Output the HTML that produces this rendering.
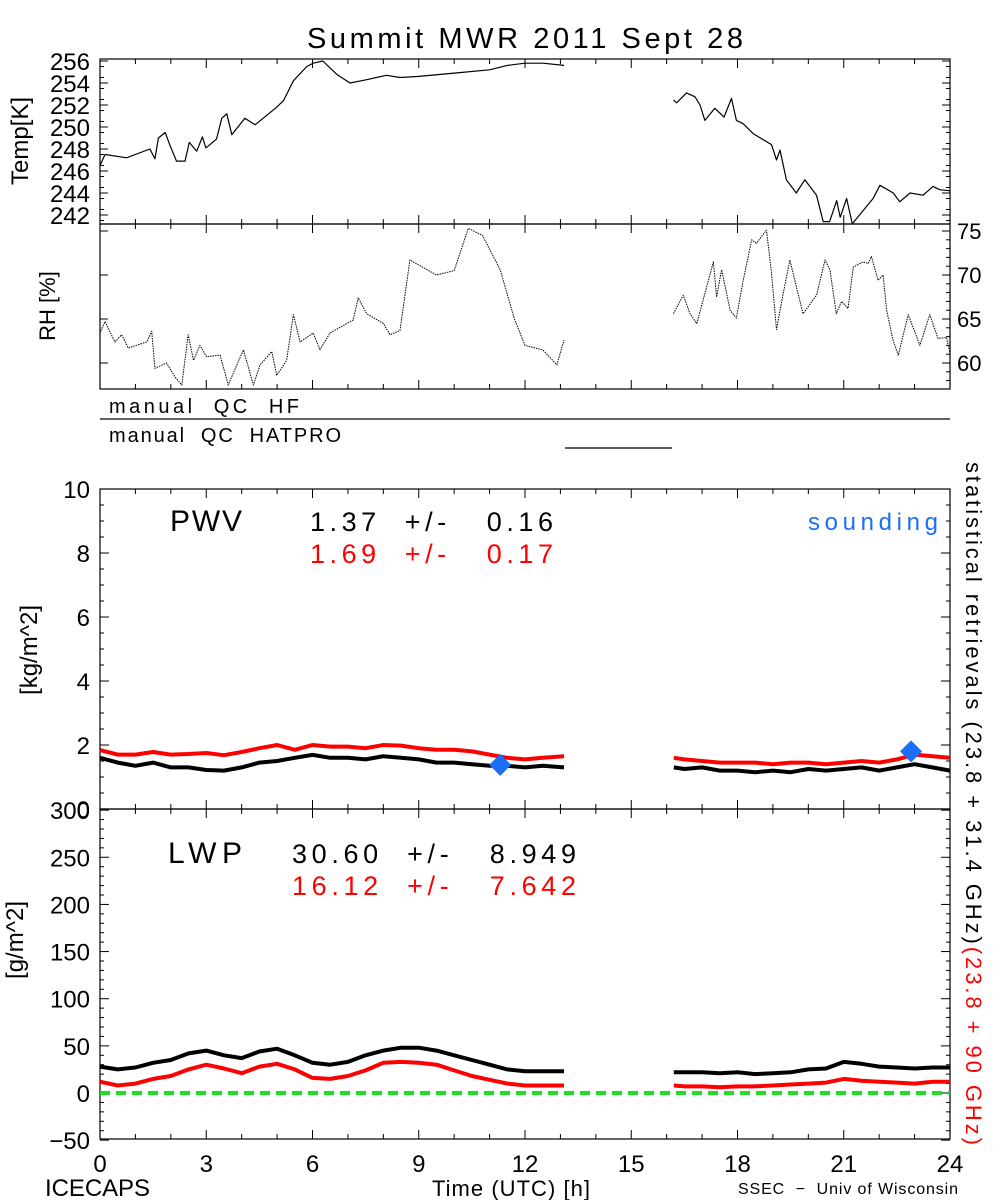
<!DOCTYPE html>
<html><head><meta charset="utf-8"><style>
html,body{margin:0;padding:0;background:#fff;}
svg{display:block;font-family:"Liberation Sans",sans-serif;}
text{white-space:pre;}
</style></head><body>
<svg id="chart" width="1000" height="1200" viewBox="0 0 1000 1200" xmlns="http://www.w3.org/2000/svg">
<rect width="1000" height="1200" fill="#fff"/>
<text x="307" y="48" font-size="29" textLength="436" lengthAdjust="spacing">Summit MWR 2011 Sept 28</text>
<g id="g"></g>
</svg>
<script>
const tempHours=[0,0.14,0.75,1.41,1.55,1.65,1.84,1.98,2.16,2.4,2.52,2.73,2.89,2.99,3.29,3.44,3.58,3.72,4.09,4.38,4.99,5.18,5.46,5.84,6.02,6.29,6.68,7.06,7.53,8.09,8.47,9,10,11,11.5,12,12.5,13.1,null,16.19,16.28,16.56,16.8,16.94,17.08,17.36,17.62,17.83,17.97,18.16,18.44,18.96,19.1,19.2,19.38,19.66,19.9,20.23,20.42,20.6,20.8,20.9,21.08,21.24,21.83,22.02,22.4,22.58,22.87,23.24,23.52,23.71,24];
const tempVals=[246.5,247.5,247.2,248.0,247.1,249.0,249.5,248.3,246.9,246.9,248.6,247.8,249.1,248.1,248.9,250.8,251.2,249.3,250.8,250.2,251.8,252.4,254.2,255.5,255.8,256.0,254.8,254.0,254.3,254.7,254.5,254.6,254.9,255.2,255.6,255.8,255.8,255.6,null,252.45,252.2,253.1,252.75,252,250.6,251.7,250.9,252.6,250.6,250.3,249.4,248.4,247,247.9,245.2,244.0,245.2,243.8,241.4,241.4,243.3,241.8,243.5,241.2,243.5,244.7,244,243.2,244,243.8,244.6,244.3,244.2];
const rhHours=[0,0.14,0.42,0.61,0.8,1.32,1.46,1.55,1.88,2.12,2.31,2.49,2.64,2.82,3.01,3.39,3.62,4.05,4.33,4.52,4.85,4.99,5.27,5.46,5.65,6.02,6.21,6.49,7.15,7.29,7.53,8.0,8.19,8.47,8.75,9.5,10,10.4,10.8,11.3,11.7,12,12.5,12.9,13.1,null,16.19,16.47,16.66,16.85,17.32,17.41,17.55,17.79,17.97,18.16,18.4,18.53,18.82,18.96,19.1,19.29,19.48,19.66,19.85,20.23,20.47,20.61,20.79,20.94,21.12,21.27,21.55,21.69,21.78,21.97,22.11,22.21,22.39,22.54,22.82,23.15,23.43,23.66,23.9,24];
const rhVals=[63.4,64.7,62.4,63.2,61.7,62.4,63.6,59.4,60,58.4,57.5,63.2,60.3,62,60.7,60.9,57.5,61.5,57.5,59.8,61.3,58.6,60.3,65.5,62.4,63.4,61.5,63.4,64.9,67.4,65.6,64.5,63.2,63.7,71.7,70,70.5,75.3,74.5,70.6,65,62,61.5,59.8,62.6,null,65.6,67.7,65.6,64.5,71.5,67.5,70.6,66,65.1,69.4,74,73.6,75.1,70.2,63.8,67.9,71.7,68.7,65.6,67.7,71.7,70.6,65.6,67,66.2,70.9,71.5,71.3,72.1,69.4,70,66,62.6,60.9,65.5,62,65.5,62.8,62.9,61.1];
const retHours=[0,0.5,1,1.5,2,2.5,3,3.5,4,4.5,5,5.5,6,6.5,7,7.5,8,8.5,9,9.5,10,10.5,11,11.5,12,12.5,13.1,null,16.2,16.5,17,17.5,18,18.5,19,19.5,20,20.5,21,21.5,22,22.5,23,23.5,24];
const pwvBlack=[1.6,1.45,1.35,1.45,1.3,1.3,1.22,1.2,1.3,1.45,1.5,1.6,1.69,1.6,1.6,1.55,1.65,1.6,1.55,1.45,1.45,1.4,1.35,1.35,1.3,1.35,1.3,null,1.3,1.25,1.3,1.2,1.2,1.15,1.2,1.15,1.25,1.2,1.25,1.3,1.2,1.3,1.4,1.3,1.2];
const pwvRed=[1.84,1.7,1.7,1.78,1.7,1.72,1.75,1.68,1.78,1.9,2.0,1.85,2.0,1.95,1.95,1.9,2.0,1.98,1.9,1.85,1.85,1.8,1.7,1.6,1.55,1.6,1.65,null,1.6,1.55,1.5,1.45,1.45,1.45,1.4,1.45,1.45,1.4,1.45,1.5,1.45,1.55,1.7,1.65,1.6];
const lwpBlack=[28,25,27,32,35,42,45,40,37,44,47,40,32,30,33,40,45,48,48,45,40,35,30,25,23,23,23,null,22,22,22,21,22,20,21,22,25,26,33,31,28,27,26,27,27];
const lwpRed=[12,8,10,15,18,25,30,26,21,28,31,25,16,15,18,24,32,33,32,30,24,18,14,10,8,8,8,null,8,7,7,6,7,7,8,9,10,11,15,13,12,11,10,12,12];
const soundHours=[11.3,22.9];
const soundVals=[1.38,1.8];
const tempTicks=[256,254,252,250,248,246,244,242];
const rhTicks=[75,70,65,60];
const pwvTicks=[10,8,6,4,2,0];
const lwpTicks=[300,250,200,150,100,50,0,-50];
const xTicks=[0,3,6,9,12,15,18,21,24];

const X0=100,X1=950;
const xs=h=>X0+(X1-X0)*h/24;
const yT=v=>61+(256-v)*11;
const yRH=v=>231+(75-v)*8.8;
const yP=v=>809-v*32;
const yL=v=>1093-v*0.9429;
const NS="http://www.w3.org/2000/svg";
const g=document.getElementById('g');
function mk(tag,attrs,parent){const e=document.createElementNS(NS,tag);for(const k in attrs)e.setAttribute(k,attrs[k]);(parent||g).appendChild(e);return e;}
function txt(s,x,y,size,anchor,fill,rot,len){const e=mk('text',{x:x,y:y,'font-size':size,'text-anchor':anchor||'start',fill:fill||'#000'});if(len){e.setAttribute('textLength',len);e.setAttribute('lengthAdjust','spacing');}if(rot)e.setAttribute('transform','rotate('+rot+' '+x+' '+y+')');e.textContent=s;return e;}
function series(hs,vs,yf,color,w,name){let d='',pen=false;for(let i=0;i<hs.length;i++){if(hs[i]===null||vs[i]===null){pen=false;continue;}d+=(pen?'L':'M')+xs(hs[i]).toFixed(1)+' '+yf(vs[i]).toFixed(1);pen=true;}const p=mk('path',{d:d,fill:'none',stroke:color,'stroke-width':w,'stroke-linejoin':'round'});

return p;}
function xTickMarks(yTop,yBot){for(let h=0;h<=24;h++){const L=(h%3===0)?9:5;const x=xs(h);mk('line',{x1:x,y1:yBot,x2:x,y2:yBot-L,stroke:'#000','stroke-width':1});mk('line',{x1:x,y1:yTop,x2:x,y2:yTop+L,stroke:'#000','stroke-width':1});}}
function frame(y0,y1,name){const r=mk('rect',{x:X0,y:y0,width:X1-X0,height:y1-y0,fill:'none',stroke:'#000','stroke-width':1.2});

xTickMarks(y0,y1);}

// Temperature panel
frame(59,224,'temp-panel');
tempTicks.forEach(v=>{const y=yT(v);mk('line',{x1:X0,y1:y,x2:X0+8,y2:y,stroke:'#000'});mk('line',{x1:X1,y1:y,x2:X1-8,y2:y,stroke:'#000'});const t=txt(String(v),90,y+9,24,'end');

});
for(let v=241.5;v<256.2;v+=1){if(Math.round(v)!==v){const y=yT(v);mk('line',{x1:X0,y1:y,x2:X0+4,y2:y,stroke:'#000'});mk('line',{x1:X1,y1:y,x2:X1-4,y2:y,stroke:'#000'});}}
let tl=txt('Temp[K]',28,141,24,'middle','#000',-90);


series(tempHours,tempVals,yT,'#000',1.2,'temp-line');

// RH panel
frame(224,389,'rh-panel');
rhTicks.forEach(v=>{const y=yRH(v);mk('line',{x1:X0,y1:y,x2:X0+8,y2:y,stroke:'#000'});mk('line',{x1:X1,y1:y,x2:X1-8,y2:y,stroke:'#000'});const t=txt(String(v),957,y+8,22,'start');

});
for(let v=58;v<76;v++){if(v%5){const y=yRH(v);mk('line',{x1:X1,y1:y,x2:X1-4,y2:y,stroke:'#000'});}}
let rl=txt('RH [%]',55,306,22,'middle','#000',-90);


series(rhHours,rhVals,yRH,'#000',1,'rh-line').setAttribute('stroke-dasharray','1.5 1');

// QC flags
let q1=txt('manual  QC  HF',109,413,20,'start','#000',0,190);


mk('line',{x1:X0,y1:419,x2:X1,y2:419,stroke:'#000','stroke-width':1.2});
let q2=txt('manual  QC  HATPRO',109,442,20,'start','#000',0,232);


mk('line',{x1:565,y1:448,x2:672,y2:448,stroke:'#000','stroke-width':1.2});

// PWV panel
frame(489,809,'pwv-panel');
pwvTicks.forEach(v=>{const y=yP(v);mk('line',{x1:X0,y1:y,x2:X0+9,y2:y,stroke:'#000'});mk('line',{x1:X1,y1:y,x2:X1-9,y2:y,stroke:'#000'});const t=txt(String(v),90,y+9,24,'end');

});
for(let v=0.5;v<10;v+=0.5){if(v%2){const y=yP(v);mk('line',{x1:X0,y1:y,x2:X0+4,y2:y,stroke:'#000'});mk('line',{x1:X1,y1:y,x2:X1-4,y2:y,stroke:'#000'});}}
let pl=txt('[kg/m^2]',37,650,24,'middle','#000',-90);


series(retHours,pwvRed,yP,'#f00',4,'pwv-red-line');
series(retHours,pwvBlack,yP,'#000',4,'pwv-black-line');
soundHours.forEach((h,i)=>{const x=xs(h),y=yP(soundVals[i]);const d=mk('path',{d:`M${x} ${y-11}L${x+11} ${y}L${x} ${y+11}L${x-11} ${y}Z`,fill:'#1a6ff5'});

});
let t1=txt('PWV',170,531,30,'start','#000',0,72);
let t2=txt('1.37  +/-   0.16',310,531,27,'start','#000',0,243);
let t3=txt('1.69  +/-   0.17',310,563,27,'start','#f00',0,243);
let t4=txt('sounding',808,530,24,'start','#1a6ff5',0,130);

// LWP panel
frame(809,1139,'lwp-panel');
lwpTicks.forEach(v=>{const y=yL(v);mk('line',{x1:X0,y1:y,x2:X0+9,y2:y,stroke:'#000'});mk('line',{x1:X1,y1:y,x2:X1-9,y2:y,stroke:'#000'});const t=txt(v<0?'\u2212'+(-v):String(v),90,y+9,24,'end');

});
for(let v=-40;v<300;v+=10){if(v%50){const y=yL(v);mk('line',{x1:X0,y1:y,x2:X0+4,y2:y,stroke:'#000'});mk('line',{x1:X1,y1:y,x2:X1-4,y2:y,stroke:'#000'});}}
let ll=txt('[g/m^2]',23,940,24,'middle','#000',-90);


let zl=mk('line',{x1:X0,y1:yL(0),x2:X1,y2:yL(0),stroke:'#22dd22','stroke-width':4,'stroke-dasharray':'10 6'});


series(retHours,lwpBlack,yL,'#000',4,'lwp-black-line');
series(retHours,lwpRed,yL,'#f00',4,'lwp-red-line');
let t5=txt('LWP',168,863,30,'start','#000',0,74);
let t6=txt('30.60  +/-   8.949',292,863,27,'start','#000',0,284);
let t7=txt('16.12  +/-   7.642',292,895,27,'start','#f00',0,284);

// x axis labels
xTicks.forEach(h=>{const t=txt(String(h),xs(h),1172,24,'middle');

});
let a1=txt('ICECAPS',45,1196,24,'start','#000',0,105);
let a2=txt('Time (UTC) [h]',432,1196,22,'start','#000',0,158);
let a3=txt('SSEC  \u2212  Univ of Wisconsin',738,1194,16,'start','#000',0,220);

// right vertical label
const rv=mk('text',{x:0,y:0,'font-size':22,transform:'translate(966 462) rotate(90)',textLength:683,lengthAdjust:'spacing'});


const s1=mk('tspan',{fill:'#000'},rv);s1.textContent='statistical retrievals (23.8 + 31.4 GHz)';
const s2=mk('tspan',{fill:'#f00'},rv);s2.textContent='(23.8 + 90 GHz)';
</script>
</body></html>
